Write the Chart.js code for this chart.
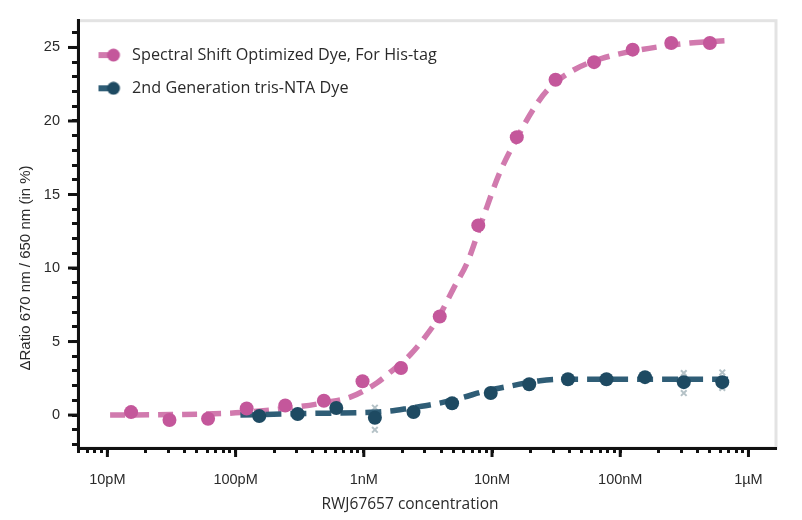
<!DOCTYPE html>
<html>
<head>
<meta charset="utf-8">
<script src="https://cdn.jsdelivr.net/npm/chart.js@4.4.0/dist/chart.umd.min.js"></script>
<style>
  html, body { margin: 0; padding: 0; background: #fff; }
</style>
</head>
<body>
<canvas id="chart" width="802" height="520"></canvas>
<script>
// concentrations are in nM

const legendNames = ['Spectral Shift Optimized Dye, For His-tag', '2nd Generation tris-NTA Dye'];

// measured points
const hisTagConc = [0.0153, 0.0305, 0.061, 0.122, 0.244, 0.488, 0.977, 1.95, 3.91, 7.81, 15.6, 31.3, 62.5, 125, 250, 500];
const hisTagRatio = [0.2, -0.34, -0.25, 0.45, 0.65, 0.97, 2.3, 3.2, 6.7, 12.9, 18.9, 22.8, 24.0, 24.85, 25.3, 25.3];

const trisNtaConc = [0.153, 0.305, 0.61, 1.22, 2.44, 4.88, 9.77, 19.5, 39.1, 78.1, 156, 313, 625];
const trisNtaRatio = [-0.07, 0.07, 0.48, -0.18, 0.2, 0.8, 1.5, 2.1, 2.44, 2.44, 2.58, 2.24, 2.24];

// fitted curves
const hisTagFitConc = [0.0105, 0.031, 0.1, 0.27, 0.5, 0.8, 1.27, 1.6, 2.3, 3.0, 3.8, 5.0, 6.5, 8.5, 11.5, 16, 21, 27, 42, 72, 145, 350, 650];
const hisTagFitRatio = [0, 0.03, 0.15, 0.5, 0.85, 1.25, 2.2, 2.9, 4.1, 5.3, 6.6, 8.6, 10.5, 13.4, 16.5, 19.0, 20.8, 22.1, 23.4, 24.25, 24.85, 25.3, 25.45];

const trisNtaFitConc = [0.109, 0.32, 0.94, 1.6, 2.3, 3.73, 5.64, 9.15, 13.8, 23.7, 40.6, 100, 293, 802];
const trisNtaFitRatio = [0, 0.1, 0.17, 0.27, 0.48, 0.78, 1.15, 1.66, 1.97, 2.34, 2.44, 2.44, 2.44, 2.44];

// single replicates (grey crosses)
const replicateConc = [1.22, 1.22, 313, 313, 625, 625];
const replicateRatio = [-1.0, 0.5, 1.5, 2.85, 1.85, 2.9];

// axes
const xDecades = [0.01, 0.1, 1, 10, 100, 1000];
const xDecadeLabels = ['10pM', '100pM', '1nM', '10nM', '100nM', '1\u00b5M'];
const yLabelValues = [0, 5, 10, 15, 20, 25];

const pinkDot = '#c4579b';
const pinkLine = '#d17aae';
const blueDot = '#1e4a62';
const blueLine = '#2f5d76';
const textColor = '#2a2a2a';

function toPoints(xs, ys) {
  return xs.map((x, i) => ({ x: x, y: ys[i] }));
}

function legendIcon(lineColor, dotColor) {
  const c = document.createElement('canvas');
  c.width = 30;
  c.height = 14;
  const g = c.getContext('2d');
  g.fillStyle = lineColor;
  g.fillRect(4, 4, 13, 6);
  g.fillStyle = dotColor;
  g.beginPath();
  g.arc(19, 7, 6.5, 0, Math.PI * 2);
  g.fill();
  return c;
}

// all tick marks of the log axis: 6..9 pM, then 1..9 per decade up to 1 uM
const xTickValues = [0.006, 0.007, 0.008, 0.009];
xDecades.slice(0, -1).forEach(d => {
  for (let k = 1; k <= 9; k++) xTickValues.push(+(d * k).toPrecision(3));
});
xTickValues.push(1000);

const yTickValues = [];
for (let v = -2; v <= 26; v++) yTickValues.push(v);

// grey frame on the plot area
const framePlugin = {
  id: 'frame',
  beforeDraw(chart) {
    const { ctx, chartArea: a } = chart;
    ctx.save();
    ctx.strokeStyle = '#e3e3e3';
    ctx.lineWidth = 3;
    ctx.strokeRect(a.left, a.top, a.right - a.left, a.bottom - a.top);
    ctx.restore();
  }
};

// longer marks at the labelled ticks
const majorTickPlugin = {
  id: 'majorTicks',
  afterDraw(chart) {
    const { ctx, scales } = chart;
    ctx.save();
    ctx.strokeStyle = '#111';
    ctx.lineWidth = 3;
    xDecades.forEach(v => {
      const px = scales.x.getPixelForValue(v);
      ctx.beginPath();
      ctx.moveTo(px, scales.x.top);
      ctx.lineTo(px, scales.x.top + 9);
      ctx.stroke();
    });
    yLabelValues.forEach(v => {
      const py = scales.y.getPixelForValue(v);
      ctx.beginPath();
      ctx.moveTo(scales.y.right, py);
      ctx.lineTo(scales.y.right - 10, py);
      ctx.stroke();
    });
    ctx.restore();
  }
};

// axis titles (the originals sit off-centre)
const titlePlugin = {
  id: 'axisTitles',
  afterDraw(chart) {
    const { ctx } = chart;
    ctx.save();
    ctx.fillStyle = textColor;
    ctx.textAlign = 'center';
    ctx.textBaseline = 'middle';
    ctx.font = '15.5px "Open Sans"';
    ctx.fillText('RWJ67657 concentration', 410, 505);
    ctx.translate(26, 268);
    ctx.rotate(-Math.PI / 2);
    ctx.font = '15px "Liberation Sans"';
    ctx.fillText('\u0394Ratio 670 nm / 650 nm (in %)', 0, 0);
    ctx.restore();
  }
};

const hisIcon = legendIcon(pinkLine, pinkDot);
const ntaIcon = legendIcon(blueLine, blueDot);

new Chart(document.getElementById('chart'), {
  type: 'line',
  data: {
    datasets: [
      {
        label: legendNames[1],
        data: toPoints(trisNtaConc, trisNtaRatio),
        showLine: false,
        pointRadius: 7,
        pointHoverRadius: 7,
        pointBackgroundColor: blueDot,
        pointBorderWidth: 0,
        order: 0
      },
      {
        label: legendNames[0],
        data: toPoints(hisTagConc, hisTagRatio),
        showLine: false,
        pointRadius: 7,
        pointHoverRadius: 7,
        pointBackgroundColor: pinkDot,
        pointBorderWidth: 0,
        order: 1
      },
      {
        label: 'tris-NTA fit',
        data: toPoints(trisNtaFitConc, trisNtaFitRatio),
        borderColor: blueLine,
        borderWidth: 5.5,
        borderDash: [16, 9],
        borderCapStyle: 'butt',
        cubicInterpolationMode: 'monotone',
        pointRadius: 0,
        fill: false,
        order: 2
      },
      {
        label: 'His-tag fit',
        data: toPoints(hisTagFitConc, hisTagFitRatio),
        borderColor: pinkLine,
        borderWidth: 5.5,
        borderDash: [15, 9],
        borderCapStyle: 'butt',
        cubicInterpolationMode: 'monotone',
        pointRadius: 0,
        fill: false,
        order: 3
      },
      {
        label: 'replicates',
        data: toPoints(replicateConc, replicateRatio),
        showLine: false,
        pointStyle: 'crossRot',
        pointRadius: 4,
        pointBorderWidth: 2,
        pointBorderColor: '#b5c2c7',
        order: 4
      }
    ]
  },
  options: {
    responsive: false,
    animation: false,
    layout: { padding: { top: 20, right: 26, left: 0, bottom: 0 } },
    plugins: {
      tooltip: { enabled: false },
      legend: {
        position: 'chartArea',
        align: 'start',
        title: { display: true, text: '', padding: 0, font: { size: 30, lineHeight: 1 } },
        labels: {
          usePointStyle: true,
          pointStyleWidth: 29,
          padding: 17,
          color: textColor,
          font: { family: '"Open Sans"', size: 16.2 },
          generateLabels: () => [
            { text: legendNames[0], pointStyle: hisIcon, fillStyle: pinkDot, strokeStyle: pinkDot, fontColor: textColor, lineWidth: 0, hidden: false, datasetIndex: 1 },
            { text: legendNames[1], pointStyle: ntaIcon, fillStyle: blueDot, strokeStyle: blueDot, fontColor: textColor, lineWidth: 0, hidden: false, datasetIndex: 0 }
          ]
        }
      }
    },
    scales: {
      x: {
        type: 'logarithmic',
        min: 0.0059,
        max: 1640,
        afterBuildTicks: scale => {
          scale.ticks = xTickValues.map(v => ({ value: v }));
        },
        afterFit: scale => { scale.height = 72; },
        border: { display: true, color: '#111', width: 3 },
        grid: { display: true, drawOnChartArea: false, drawTicks: true, tickLength: 5, tickWidth: 3, tickColor: '#111' },
        ticks: {
          autoSkip: false,
          maxRotation: 0,
          padding: 18,
          color: textColor,
          font: { family: '"Liberation Sans"', size: 14.5 },
          callback: value => {
            const i = xDecades.findIndex(d => Math.abs(d - value) / d < 1e-6);
            return i >= 0 ? xDecadeLabels[i] : '';
          }
        }
      },
      y: {
        type: 'linear',
        min: -2.24,
        max: 26.82,
        afterBuildTicks: scale => {
          scale.ticks = yTickValues.map(v => ({ value: v }));
        },
        afterFit: scale => { scale.width = 78; },
        border: { display: true, color: '#111', width: 3 },
        grid: { display: true, drawOnChartArea: false, drawTicks: true, tickLength: 6, tickWidth: 3, tickColor: '#111' },
        ticks: {
          autoSkip: false,
          padding: 12,
          color: textColor,
          font: { family: '"Liberation Sans"', size: 14.5 },
          callback: value => (yLabelValues.includes(value) ? String(value) : '')
        }
      }
    }
  },
  plugins: [framePlugin, majorTickPlugin, titlePlugin]
});
</script>
</body>
</html>
